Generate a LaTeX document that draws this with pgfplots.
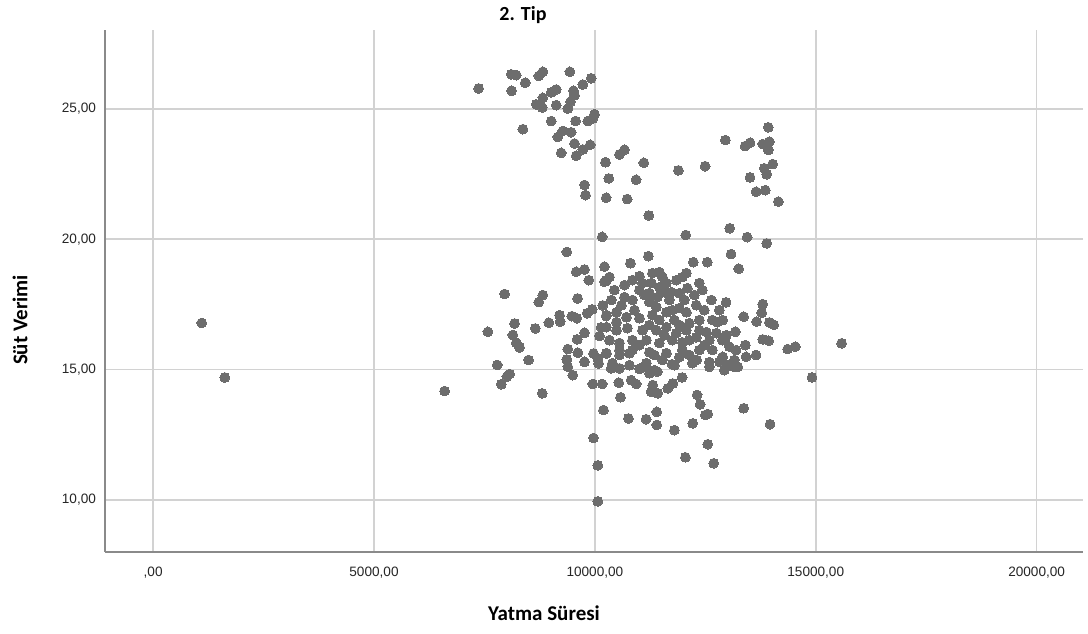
\documentclass[border=0pt]{standalone}
\usepackage{pgfplots}
\pgfplotsset{compat=1.18}
\usepackage{fontspec}
\setmainfont{Liberation Sans}
\newfontfamily\labfont{Carlito}
\definecolor{ptcol}{HTML}{6D6D6D}
\definecolor{axcol}{HTML}{8A8A8A}
\definecolor{grcol}{HTML}{D2D2D2}
\begin{document}
\begin{tikzpicture}
\path[use as bounding box] (0,0) rectangle (544pt,316.5pt);
\begin{axis}[
  at={(52.5pt,40.65pt)}, anchor=south west,
  scale only axis, width=489pt, height=260.85pt,
  xmin=-1090, xmax=21050, ymin=8.02, ymax=28.02,
  axis x line*=bottom, axis y line*=left,
  axis line style={axcol, line width=1pt, -},
  xtick={0,5000,10000,15000,20000},
  xticklabels={{,00},{5000,00},{10000,00},{15000,00},{20000,00}},
  scaled x ticks=false,
  ytick={10,15,20,25},
  yticklabels={{10,00},{15,00},{20,00},{25,00}},
  major tick length=0pt,
  xmajorgrids, ymajorgrids,
  major grid style={grcol, line width=0.75pt},
  tick label style={font=\fontsize{6.8}{8}\selectfont, text=black!85},
  xticklabel style={yshift=-4pt},
  yticklabel style={xshift=-1pt},
  /pgf/number format/assume math mode=true,
  clip=false,
]
\addplot[only marks, color=ptcol, mark=*, mark size=2.45pt, mark options={fill=ptcol, draw=ptcol, line width=0pt}] table[row sep=\\] {
x y\\
1100 16.79\\ 1622 14.70\\ 6598 14.18\\
7368 25.78\\ 8107 26.32\\ 8220 26.29\\ 8114 25.69\\ 8424 26.00\\ 8731 26.26\\ 8822 26.42\\ 9433 26.42\\ 9727 25.93\\ 9917 26.17\\
9516 25.69\\ 9125 25.74\\ 9012 25.63\\ 8822 25.42\\ 8673 25.17\\ 8808 25.05\\ 9125 25.14\\ 9387 25.01\\ 9449 25.27\\ 9539 25.52\\
8370 24.22\\ 9012 24.53\\ 9562 24.53\\ 9840 24.53\\ 9991 24.79\\ 9953 24.63\\ 9274 24.15\\ 9464 24.10\\ 9161 23.92\\ 9539 23.67\\
9727 23.44\\ 9894 23.62\\ 9238 23.31\\ 9577 23.20\\ 10240 22.95\\ 10557 23.25\\ 10670 23.43\\ 10934 22.28\\ 10315 22.33\\ 9765 22.08\\
9788 21.69\\ 10256 21.59\\ 10731 21.54\\
11107 22.93\\ 11220 20.91\\ 11891 22.64\\ 12495 22.80\\ 12955 23.80\\ 13400 23.57\\ 13513 23.70\\ 13799 23.65\\ 13950 23.74\\ 13927 24.29\\
13927 23.42\\ 13837 22.72\\ 13889 22.49\\ 14025 22.88\\ 13513 22.37\\ 13649 21.82\\ 13859 21.88\\ 14153 21.44\\ 10166 20.09\\ 12057 20.16\\
13052 20.42\\ 13446 20.08\\ 13889 19.84\\
9365 19.51\\ 9577 18.75\\ 9765 18.84\\ 9863 18.43\\ 10217 18.95\\ 10217 18.37\\ 7955 17.90\\ 8822 17.86\\ 8731 17.59\\ 9607 17.73\\
10179 17.46\\ 9939 17.31\\ 9826 17.16\\ 9200 17.09\\ 9478 17.05\\ 9591 16.97\\ 10256 17.05\\ 9215 16.84\\ 8958 16.80\\ 8650 16.58\\
8182 16.77\\ 7578 16.45\\ 8143 16.33\\ 8220 16.03\\ 8295 15.85\\ 8498 15.37\\ 7790 15.18\\ 8069 14.83\\ 8008 14.73\\ 10143 16.62\\
10105 16.29\\ 9765 16.41\\ 9600 16.16\\ 9387 15.79\\ 9614 15.65\\ 9365 15.39\\ 9765 15.30\\ 9969 15.62\\ 9387 15.11\\ 9500 14.79\\
10066 15.43\\ 10256 15.62\\
7881 14.44\\ 8808 14.09\\ 9953 14.45\\ 10166 14.45\\ 10195 13.45\\ 9969 12.38\\ 10066 11.33\\ 10066 9.95\\ 10082 15.24\\
10369 15.05\\ 10557 15.05\\ 10541 14.50\\ 10580 13.94\\ 10821 14.60\\ 10934 14.45\\ 11273 14.15\\ 11423 14.09\\ 11310 14.41\\
11009 15.03\\ 11122 15.11\\ 11235 14.86\\ 11416 14.92\\ 11650 14.28\\ 11763 14.47\\ 11975 14.70\\ 11748 15.21\\ 10760 13.13\\ 11160 13.10\\
11401 13.38\\ 11401 12.88\\ 11801 12.68\\ 12215 12.94\\ 12314 14.03\\ 12382 13.67\\ 12502 13.26\\ 12555 13.30\\ 12555 12.14\\ 12050 11.64\\
12690 11.41\\ 12593 15.11\\ 12306 15.37\\ 12819 15.30\\ 12932 14.98\\
13158 15.11\\ 14916 14.70\\ 13368 13.52\\ 13966 12.91\\
13083 19.43\\ 13255 18.87\\ 12970 17.58\\ 13799 17.51\\ 13776 17.18\\ 13368 17.03\\ 13662 16.84\\ 13950 16.81\\ 14048 16.72\\ 12893 16.90\\
13181 16.45\\ 13799 16.16\\ 13934 16.11\\ 14364 15.79\\ 14538 15.88\\ 15585 16.01\\ 13407 15.94\\ 13649 15.56\\
12932 16.13\\ 13045 15.88\\ 13196 15.75\\ 12893 15.49\\ 13158 15.37\\ 13422 15.49\\ 13007 15.17\\ 13234 15.11\\
11212 19.35\\ 10805 19.08\\ 10262 18.43\\ 10330 18.55\\ 12230 19.12\\ 12547 19.12\\ 10850 18.43\\ 11009 18.58\\ 11077 18.32\\ 11303 18.70\\
11461 18.74\\ 11529 18.55\\ 11280 18.32\\ 11461 18.16\\ 11620 18.32\\ 11846 18.43\\ 11981 18.55\\ 12072 18.70\\ 12366 18.32\\ 12434 18.05\\
11733 17.97\\ 11914 17.93\\ 12095 18.12\\ 10670 17.78\\ 10850 17.67\\ 10602 17.47\\ 11235 17.93\\ 11416 17.78\\ 11574 17.97\\ 11235 17.59\\
11393 17.40\\ 10489 17.20\\ 10262 17.09\\ 10715 17.01\\ 11009 16.97\\ 11303 17.09\\ 11620 17.20\\ 11755 17.28\\ 11914 17.36\\ 12072 17.20\\
12298 17.47\\ 12366 16.90\\ 12660 16.90\\ 12773 16.82\\ 12140 16.78\\ 10262 16.63\\ 10489 16.51\\ 10737 16.59\\ 11077 16.51\\ 11393 16.51\\
11620 16.63\\ 11846 16.40\\ 12072 16.51\\ 12524 16.44\\ 12751 16.40\\ 12977 16.32\\ 10330 16.13\\ 10557 16.02\\ 10850 16.13\\ 11167 16.13\\
11461 16.02\\ 11755 16.13\\ 11981 16.05\\ 12298 16.24\\ 12593 16.13\\ 12886 16.13\\ 10262 15.63\\ 10557 15.75\\ 10850 15.75\\ 11235 15.67\\
11620 15.63\\ 11981 15.75\\ 12366 15.75\\ 12660 15.75\\ 10398 15.25\\ 10783 15.63\\ 11167 15.25\\ 11529 15.37\\ 11914 15.48\\ 12208 15.25\\
12593 15.29\\ 12864 15.37\\ 12637 17.67\\ 12819 17.28\\
10443 18.05\\ 10670 18.24\\ 11122 17.86\\ 10896 17.28\\ 11461 16.90\\ 11801 16.90\\ 12253 17.86\\ 12479 17.28\\ 12140 16.13\\ 11348 15.56\\
11009 15.94\\ 12366 16.51\\ 10489 16.82\\ 11688 17.67\\ 12027 17.67\\ 11009 18.05\\ 10375 17.67\\ 10783 15.17\\ 11348 14.98\\ 11801 15.17\\
12140 15.56\\ 12479 15.94\\ 10557 15.56\\ 11574 16.32\\ 11235 16.71\\ 11914 16.71\\
};
\end{axis}
\node[font=\labfont\bfseries\fontsize{10}{12}\selectfont] at (261.5pt,309pt) {2. Tip};
\node[font=\labfont\bfseries\fontsize{10.5}{12}\selectfont] at (272pt,10pt) {Yatma Süresi};
\node[font=\labfont\bfseries\fontsize{10.5}{12}\selectfont, rotate=90] at (10pt,156.5pt) {Süt Verimi};
\end{tikzpicture}
\end{document}
